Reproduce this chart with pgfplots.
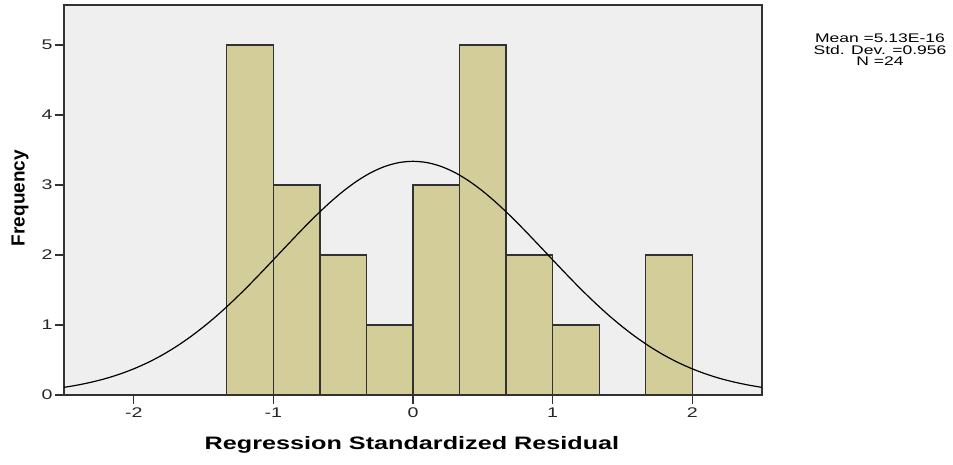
\documentclass[border=0pt]{standalone}
\usepackage{pgfplots}
\pgfplotsset{compat=1.18}
\usepackage{graphicx}
\usepackage{fontspec}
\setmainfont{Liberation Sans}
\definecolor{bgc}{RGB}{239,239,239}
\definecolor{barc}{RGB}{211,206,153}
\definecolor{edgec}{RGB}{50,50,50}
\newcommand{\sx}[1]{\scalebox{1.4}[1]{#1}}
\begin{document}
\begin{tikzpicture}
\useasboundingbox (-64pt,-69pt) rectangle (889pt,395pt);
\begin{axis}[
  at={(0pt,0pt)}, anchor=south west,
  width=698pt, height=390pt, scale only axis,
  xmin=-2.5, xmax=2.5, ymin=0, ymax=5.571,
  axis background/.style={fill=bgc},
  axis line style={edgec, line width=1.3pt},
  xtick={-2,-1,0,1,2},
  xticklabels={\sx{-2},\sx{-1},\sx{0},\sx{1},\sx{2}},
  ytick={0,1,2,3,4,5},
  yticklabels={\sx{0},\sx{1},\sx{2},\sx{3},\sx{4},\sx{5}},
  tick align=outside, xtick pos=bottom, ytick pos=left,
  major tick length=9pt,
  tick style={edgec, line width=1.3pt},
  ticklabel style={font=\fontsize{14}{15}\selectfont, text=black!85},
  xticklabel style={yshift=0pt},
  yticklabel style={xshift=1pt},
  clip=false,
]
\addplot[ybar interval, fill=barc, draw=edgec, line width=1.2pt] coordinates {
  (-1.33333,5) (-1,3) (-0.66667,2) (-0.33333,1) (0,3) (0.33333,5)
  (0.66667,2) (1,1) (1.33333,0) (1.66667,2) (2,2)
};
\addplot[black, line width=1.2pt, smooth] coordinates {
  (-2.5,0.109) (-2.4,0.143) (-2.3,0.185) (-2.2,0.236) (-2.1,0.299)
  (-2.0,0.374) (-1.9,0.463) (-1.8,0.567) (-1.7,0.687) (-1.6,0.823)
  (-1.5,0.975) (-1.4,1.142) (-1.3,1.324) (-1.2,1.518) (-1.1,1.722)
  (-1.0,1.932) (-0.9,2.143) (-0.8,2.352) (-0.7,2.553) (-0.6,2.741)
  (-0.5,2.911) (-0.4,3.058) (-0.3,3.178) (-0.2,3.266) (-0.1,3.320)
  (0,3.338)
  (0.1,3.320) (0.2,3.266) (0.3,3.178) (0.4,3.058) (0.5,2.911)
  (0.6,2.741) (0.7,2.553) (0.8,2.352) (0.9,2.143) (1.0,1.932)
  (1.1,1.722) (1.2,1.518) (1.3,1.324) (1.4,1.142) (1.5,0.975)
  (1.6,0.823) (1.7,0.687) (1.8,0.567) (1.9,0.463) (2.0,0.374)
  (2.1,0.299) (2.2,0.236) (2.3,0.185) (2.4,0.143) (2.5,0.109)
};
\end{axis}
\node[font=\bfseries\fontsize{18}{20}\selectfont] at (348pt,-50pt) {\sx{Regression Standardized Residual}};
\node[font=\bfseries\fontsize{19}{21}\selectfont, rotate=90] at (-44pt,197pt) {Frequency};
\node[font=\fontsize{12.5}{11.5}\selectfont, align=center] at (816pt,345pt)
  {\sx{Mean =5.13E-16}\\\sx{Std. Dev. =0.956}\\\sx{N =24}};
\end{tikzpicture}
\end{document}
